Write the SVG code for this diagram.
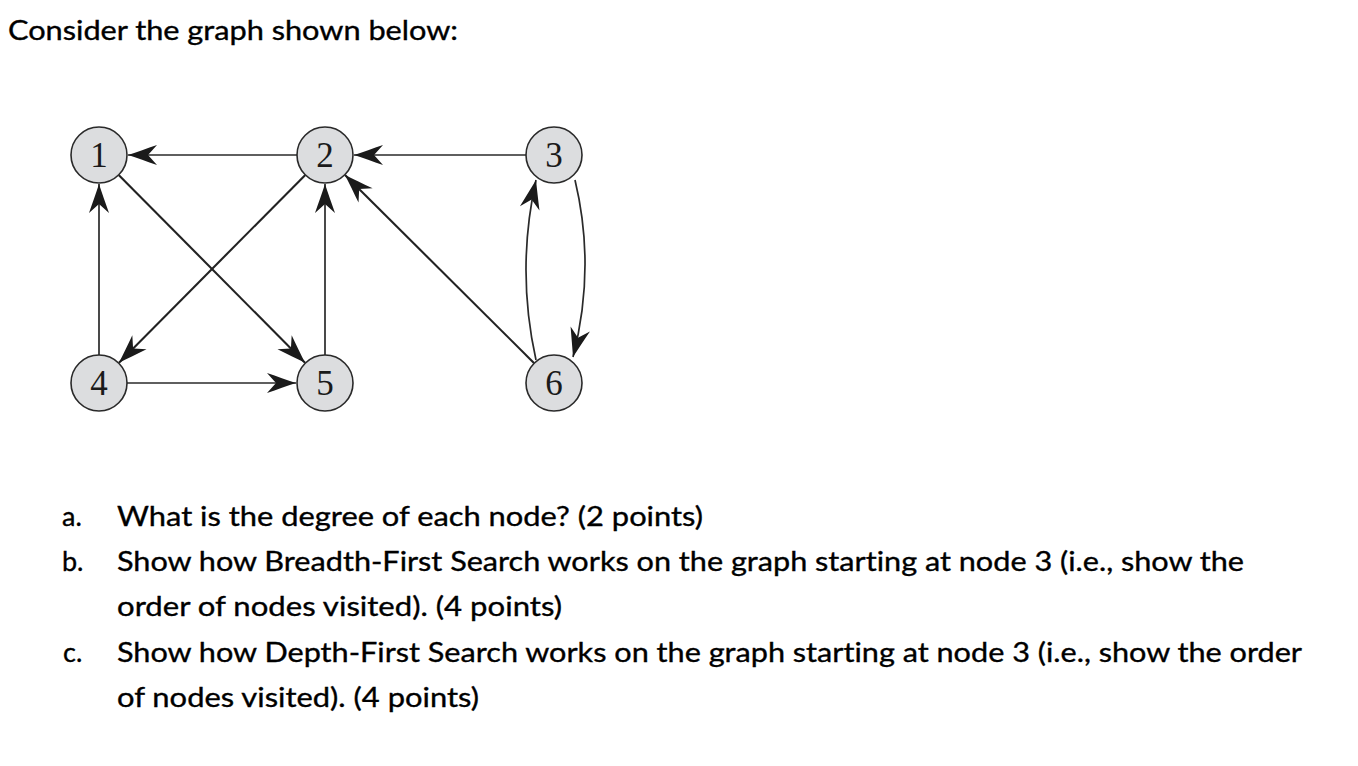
<svg xmlns="http://www.w3.org/2000/svg" width="1358" height="766" viewBox="0 0 1358 766">
<style>
.txt{font-family:Lato,"Open Sans",sans-serif;font-size:27px;fill:#000;stroke:#000;stroke-width:0.35;font-variant-ligatures:none;font-feature-settings:"liga" 0,"clig" 0,"dlig" 0,"calt" 0}
.title{font-size:26px}
.node circle{fill:#dcdddf;stroke:#2a2a2a;stroke-width:1.6}
.node text{font-family:"Liberation Serif","Times New Roman",serif;font-size:35px;fill:#1a1a1a;text-anchor:middle}
.edge{fill:none;stroke:#2a2a2a;stroke-width:1.7;marker-end:url(#arr)}
.diag{stroke-width:2.1;stroke:#222}
</style>
<defs>
<marker id="arr" markerUnits="userSpaceOnUse" viewBox="-32 -11 34 22" refX="0" refY="0" markerWidth="34" markerHeight="22" orient="auto">
<path d="M0,0 C-9,-3 -19,-6.5 -29,-10 L-20,0 L-29,10 C-19,6.5 -9,3 0,0 Z" fill="#1a1a1a"/>
</marker>
</defs>
<rect width="1358" height="766" fill="#fff"/>
<text class="txt title" x="8" y="40" textLength="450" lengthAdjust="spacingAndGlyphs">Consider the graph shown below:</text>
<g id="connectors">
<line class="edge" x1="297" y1="155" x2="128" y2="155"/>
<line class="edge" x1="526" y1="155" x2="354" y2="155"/>
<line class="edge" x1="99" y1="355" x2="99" y2="184"/>
<line class="edge" x1="325" y1="355" x2="325" y2="184"/>
<line class="edge" x1="127" y1="383" x2="296" y2="383"/>
<line class="edge diag" x1="118.7" y1="174.9" x2="305" y2="362.8"/>
<line class="edge diag" x1="305.3" y1="174.9" x2="119" y2="362.8"/>
<line class="edge diag" x1="534.2" y1="363.2" x2="345" y2="175"/>
<path class="edge" d="M536,360 Q516,270 536,180"/>
<path class="edge" d="M575,180 Q596,268 573,357"/>
</g>
<g id="node1" class="node"><circle cx="99" cy="155" r="28"/><text x="99" y="167">1</text></g>
<g id="node2" class="node"><circle cx="325" cy="155" r="28"/><text x="325" y="167">2</text></g>
<g id="node3" class="node"><circle cx="554" cy="155" r="28"/><text x="554" y="167">3</text></g>
<g id="node4" class="node"><circle cx="99" cy="383" r="28"/><text x="99" y="395">4</text></g>
<g id="node5" class="node"><circle cx="325" cy="383" r="28"/><text x="325" y="395">5</text></g>
<g id="node6" class="node"><circle cx="554" cy="383" r="28"/><text x="554" y="395">6</text></g>
<g id="questions">
<text class="txt" x="62" y="526">a.</text>
<text class="txt" x="117" y="526" textLength="586" lengthAdjust="spacingAndGlyphs">What is the degree of each node? (2 points)</text>
<text class="txt" x="62" y="571">b.</text>
<text class="txt" x="117" y="571" textLength="1127" lengthAdjust="spacingAndGlyphs">Show how Breadth-First Search works on the graph starting at node 3 (i.e., show the</text>
<text class="txt" x="117" y="616" textLength="445" lengthAdjust="spacingAndGlyphs">order of nodes visited). (4 points)</text>
<text class="txt" x="63" y="662">c.</text>
<text class="txt" x="117" y="662" textLength="1185" lengthAdjust="spacingAndGlyphs">Show how Depth-First Search works on the graph starting at node 3 (i.e., show the order</text>
<text class="txt" x="117" y="707" textLength="362" lengthAdjust="spacingAndGlyphs">of nodes visited). (4 points)</text>
</g>
</svg>
